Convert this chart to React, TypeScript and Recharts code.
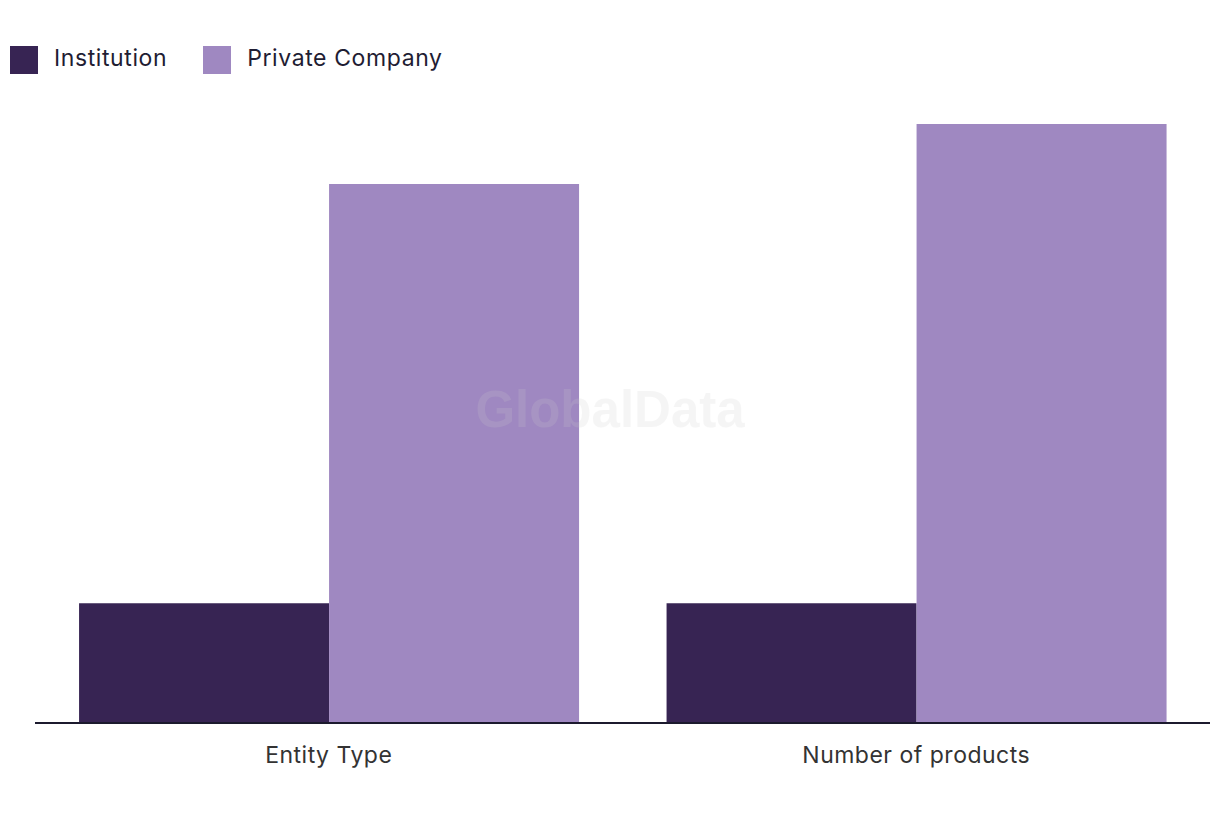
import React from "react";
import { Bar, BarChart, Legend, XAxis, YAxis } from "recharts";

const categories = ["Entity Type", "Number of products"];
const institution = [2, 2];
const privateCompany = [9, 10];

const seriesNames = ["Institution", "Private Company"];
const seriesColors = ["#372453", "#9f88c1"];

const data = categories.map((name, i) => ({
  name,
  institution: institution[i],
  privateCompany: privateCompany[i],
}));

const font = "Inter, 'Noto Sans', sans-serif";

function ChartLegend() {
  return (
    <div style={{ height: 96, paddingTop: 18, boxSizing: "border-box", display: "flex", alignItems: "flex-start" }}>
      {seriesNames.map((name, i) => (
        <div key={name} style={{ display: "flex", alignItems: "center", marginRight: 36 }}>
          <span style={{ width: 28, height: 28, background: seriesColors[i], display: "inline-block" }} />
          <span
            style={{
              marginLeft: 16,
              fontSize: 23,
              letterSpacing: 0.6,
              color: "#1f1d33",
              fontFamily: font,
              position: "relative",
              top: -2,
            }}
          >
            {name}
          </span>
        </div>
      ))}
    </div>
  );
}

function CategoryTick({ x, y, payload }: any) {
  return (
    <text x={x} y={y + 40} textAnchor="middle" fill="#333333" fontSize={23} letterSpacing={0.5} fontFamily={font}>
      {payload.value}
    </text>
  );
}

export default function App() {
  return (
    <div style={{ position: "relative", width: 1212, height: 804, fontFamily: font }}>
      <BarChart
        width={1212}
        height={804}
        data={data}
        margin={{ top: 20, right: 10, bottom: 29, left: 27 }}
        barCategoryGap="7.5%"
        barGap={0}
      >
        <Legend
          verticalAlign="top"
          align="left"
          wrapperStyle={{ left: 2 }}
          content={() => <ChartLegend />}
        />
        <XAxis
          dataKey="name"
          height={60}
          tickLine={false}
          tickSize={0}
          tickMargin={0}
          axisLine={{ stroke: "#1c1a2e", strokeWidth: 2 }}
          tick={<CategoryTick />}
        />
        <YAxis hide domain={[0, 10]} />
        <Bar dataKey="institution" name={seriesNames[0]} fill={seriesColors[0]} isAnimationActive={false} />
        <Bar dataKey="privateCompany" name={seriesNames[1]} fill={seriesColors[1]} isAnimationActive={false} />
      </BarChart>
      <div
        style={{
          position: "absolute",
          left: 0,
          width: 1204,
          top: 372,
          textAlign: "center",
          fontSize: 51,
          fontWeight: 700,
          color: "#cccccc",
          opacity: 0.18,
          pointerEvents: "none",
          fontFamily: "'Liberation Sans', Arial, sans-serif",
        }}
      >
        GlobalData
      </div>
    </div>
  );
}
